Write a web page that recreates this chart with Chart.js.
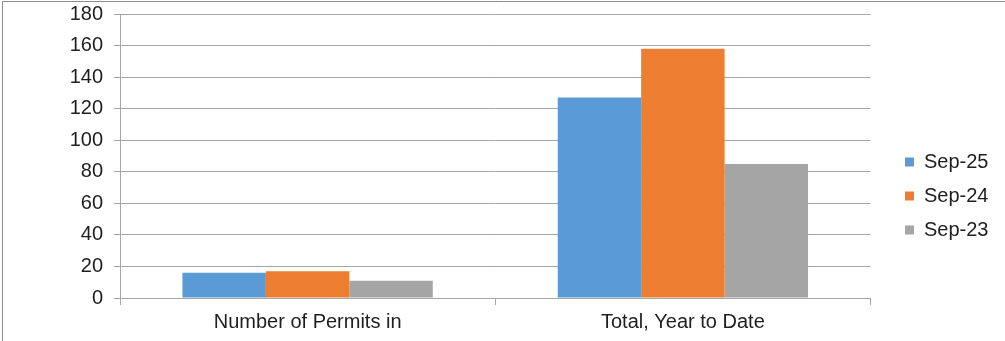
<!DOCTYPE html>
<html>
<head>
<meta charset="utf-8">
<title>Permits</title>
<script src="https://cdn.jsdelivr.net/npm/chart.js@4"></script>
<style>
    html, body { margin: 0; padding: 0; background: #fff; }
    #wrap { position: relative; width: 1005px; height: 341px; }
</style>
</head>
<body>
<div id="wrap"><canvas id="permitsChart" width="1005" height="341"></canvas></div>
<script>
const categorias = ['Number of Permits in', 'Total, Year to Date'];
const sep25 = [16, 127];
const sep24 = [17, 158];
const sep23 = [11, 85];
const ticksY = [0, 20, 40, 60, 80, 100, 120, 140, 160, 180];

const gris = '#a6a6a6';
const texto = '#1e1e1e';
const fuente = "'Liberation Sans', Arial, sans-serif";

// marco gris arriba y a la izquierda
const marco = {
    id: 'marco',
    beforeDraw(chart) {
        const ctx = chart.ctx;
        ctx.save();
        ctx.strokeStyle = '#8c8c8c';
        ctx.lineWidth = 1;
        ctx.beginPath();
        ctx.moveTo(2.5, chart.height);
        ctx.lineTo(2.5, 1.5);
        ctx.lineTo(chart.width, 1.5);
        ctx.stroke();
        ctx.restore();
    }
};

// leyenda a la derecha, un poco más abajo del centro
const moverLeyenda = {
    id: 'moverLeyenda',
    afterLayout(chart) {
        const lg = chart.legend;
        const w = lg.width, h = lg.height;
        lg.left = 891; lg.right = 891 + w;
        lg.top = 138; lg.bottom = 138 + h;
    }
};

new Chart(document.getElementById('permitsChart').getContext('2d'), {
    type: 'bar',
    data: {
        labels: categorias,
        datasets: [
            { label: 'Sep-25', data: sep25, backgroundColor: '#5b9bd5' },
            { label: 'Sep-24', data: sep24, backgroundColor: '#ed7d31' },
            { label: 'Sep-23', data: sep23, backgroundColor: '#a5a5a5' }
        ]
    },
    options: {
        responsive: false,
        animation: false,
        layout: { padding: { top: 14, right: 27, bottom: 0, left: 0 } },
        datasets: { bar: { categoryPercentage: 0.667, barPercentage: 1.0, borderWidth: 0 } },
        plugins: {
            tooltip: { enabled: false },
            legend: {
                position: 'right',
                align: 'start',
                labels: {
                    boxWidth: 9,
                    boxHeight: 9,
                    padding: 14,
                    color: texto,
                    font: { family: fuente, size: 20 }
                }
            }
        },
        scales: {
            x: {
                grid: { display: true, drawOnChartArea: false, drawTicks: true, tickLength: 7, color: gris, offset: true },
                border: { display: true, color: gris },
                ticks: { color: texto, padding: 5, maxRotation: 0, font: { family: fuente, size: 20 } },
                afterFit(scale) {
                    scale.height = 43;
                    scale.paddingLeft = 0;
                    scale.paddingRight = 0;
                }
            },
            y: {
                min: 0,
                max: 180,
                grid: { color: gris, tickLength: 6 },
                border: { display: true, color: gris },
                ticks: { stepSize: 20, color: texto, padding: 11, font: { family: fuente, size: 20 } },
                afterBuildTicks(scale) { scale.ticks = ticksY.map(v => ({ value: v })); },
                afterFit(scale) {
                    scale.width = 120;
                    scale.paddingTop = 0;
                    scale.paddingBottom = 0;
                }
            }
        }
    },
    plugins: [marco, moverLeyenda]
});
</script>
</body>
</html>
